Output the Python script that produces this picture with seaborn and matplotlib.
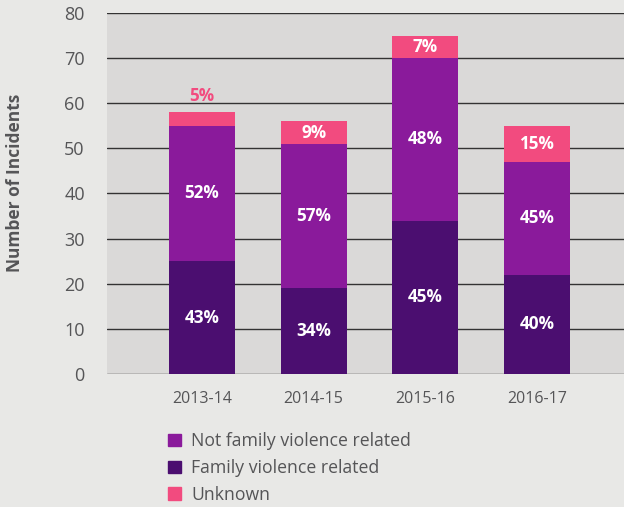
import matplotlib.pyplot as plt
import seaborn as sns
import numpy as np

# Data
years = ["2013-14", "2014-15", "2015-16", "2016-17"]
family = [25, 19, 34, 22]
not_family = [30, 32, 36, 25]
unknown = [3, 5, 5, 8]

family_pct = ["43%", "34%", "45%", "40%"]
not_family_pct = ["52%", "57%", "48%", "45%"]
unknown_pct = ["5%", "9%", "7%", "15%"]

col_not = "#8a1a9b"
col_fam = "#4b0e70"
col_unk = "#f24b7f"
bg_fig = "#e8e8e6"
bg_ax = "#dad9d8"
text_col = "#555557"

sns.set_theme(style="white")
plt.rcParams["font.family"] = ["Open Sans", "DejaVu Sans"]

fig = plt.figure(figsize=(6.24, 5.07), dpi=100, facecolor=bg_fig)
ax = fig.add_axes([0.1715, 0.2623, 0.8285, 0.7121])
ax.set_facecolor(bg_ax)

fam = np.array(family)
mid = fam + np.array(not_family)
total = mid + np.array(unknown)

# stacked by overlapping cumulative bars, tallest first
bar_kw = dict(width=0.59, saturation=1, ax=ax, zorder=3, linewidth=0, edgecolor="none")
sns.barplot(x=years, y=total, color=col_unk, **bar_kw)
sns.barplot(x=years, y=mid, color=col_not, **bar_kw)
sns.barplot(x=years, y=fam, color=col_fam, **bar_kw)

ax.set_ylim(0, 80)
ax.set_xlim(-0.85, 3.78)
ax.set_yticks(range(0, 81, 10))
ax.yaxis.grid(True, color="#333333", linewidth=1.0, zorder=0)
ax.set_axisbelow(True)
for s in ax.spines.values():
    s.set_visible(False)
ax.tick_params(axis="y", length=0, labelsize=13, labelcolor=text_col, pad=16)
ax.tick_params(axis="x", length=0, labelsize=11.5, labelcolor=text_col, pad=12)
ax.set_xlabel("")
ax.set_ylabel("Number of Incidents", fontsize=12.5, fontweight="bold",
              color=text_col)
ax.yaxis.set_label_coords(-0.16, 0.529)

lab_kw = dict(ha="center", va="center", fontsize=12.3, fontweight="bold", zorder=5)
for i in range(len(years)):
    ax.text(i, fam[i] / 2, family_pct[i], color="white", **lab_kw)
    ax.text(i, fam[i] + not_family[i] / 2, not_family_pct[i], color="white", **lab_kw)
    if unknown[i] >= 4:
        ax.text(i, mid[i] + unknown[i] / 2, unknown_pct[i], color="white", **lab_kw)
    else:
        ax.text(i, total[i] + 3.6, unknown_pct[i], color=col_unk, **lab_kw)

# legend below the chart
handles = [plt.Rectangle((0, 0), 1, 1, color=c) for c in (col_not, col_fam, col_unk)]
labels = ["Not family violence related", "Family violence related", "Unknown"]
fig.legend(handles, labels, loc="upper left", bbox_to_anchor=(0.255, 0.165),
           frameon=False, fontsize=12.7, labelcolor=text_col, handlelength=0.72,
           handleheight=0.72, handletextpad=0.6, labelspacing=0.5, borderpad=0)

fig.savefig("out.png", dpi=100, facecolor=bg_fig)
